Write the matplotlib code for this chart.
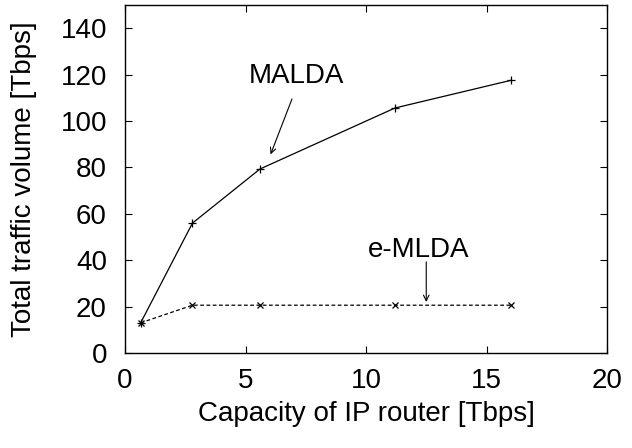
import matplotlib
matplotlib.use("Agg")
import matplotlib.pyplot as plt

plt.rcParams['font.family'] = ['Liberation Sans', 'DejaVu Sans']

capacity = [0.65, 2.8, 5.6, 11.2, 16.0]
malda = [13.0, 56.0, 79.3, 105.6, 117.5]
emlda = [13.0, 20.6, 20.6, 20.6, 20.6]
xticks = [0, 5, 10, 15, 20]
yticks = [0, 20, 40, 60, 80, 100, 120, 140]

fig = plt.figure(figsize=(6.32, 4.48), dpi=100)
ax = fig.add_axes([125/632, 1 - 353/448, (607-125)/632, (353-5)/448])

ax.plot(capacity, malda, color='black', lw=0.9, marker='+', ms=6, mew=0.9)
ax.plot(capacity, emlda, color='black', lw=0.9, ls=(0, (3, 2)), marker='x', ms=5, mew=0.9)

ax.set_xlim(0, 20)
ax.set_ylim(0, 150)
ax.set_xticks(xticks)
ax.set_yticks(yticks)
ax.tick_params(direction='in', top=True, right=True, labelsize=20, length=5, width=0.8)
ax.tick_params(axis='y', pad=13)
ax.tick_params(axis='x', pad=11)
for s in ax.spines.values():
    s.set_linewidth(1.0)

ax.set_xlabel('Capacity of IP router [Tbps]', fontsize=20, labelpad=5)
ax.set_ylabel('Total traffic volume [Tbps]', fontsize=20, labelpad=17)

ax.annotate('', xy=(6.0, 84.5), xytext=(6.97, 110.6),
            arrowprops=dict(arrowstyle='->', color='black', lw=0.8))
ax.text(7.1, 119.5, 'MALDA', fontsize=20, ha='center', va='center')
ax.annotate('', xy=(12.5, 20.8), xytext=(12.5, 40.5),
            arrowprops=dict(arrowstyle='->', color='black', lw=0.8))
ax.text(12.2, 44.5, 'e-MLDA', fontsize=20, ha='center', va='center')

fig.savefig('out.png', dpi=100)
